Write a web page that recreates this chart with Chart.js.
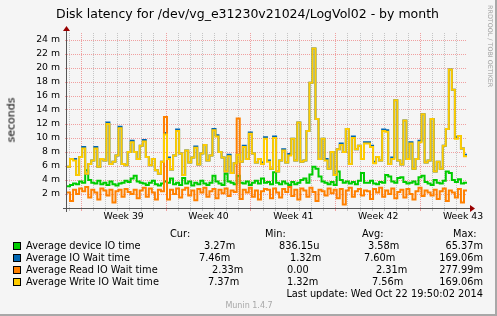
<!DOCTYPE html>
<html>
<head>
<meta charset="utf-8">
<script src="https://cdn.jsdelivr.net/npm/chart.js@4.4.0/dist/chart.umd.min.js"></script>
<style>
body{margin:0;background:#f5f5f5}
#wrap{position:relative;width:497px;height:316px;background:#f5f5f5;overflow:hidden;font-family:'DejaVu Sans',sans-serif;color:#000}
#wrap canvas{position:absolute;left:0;top:0}
.t{position:absolute;white-space:pre;line-height:1}
.box{position:absolute;width:6px;height:6px;border:1px solid #000}
.shadeR{position:absolute;right:0;top:0;width:2px;height:316px;background:#a8a8a8}
.shadeB{position:absolute;left:0;bottom:0;width:497px;height:2px;background:#a8a8a8}
</style>
</head>
<body>
<div id="wrap"><canvas id="chart" width="497" height="316"></canvas><div class="shadeR"></div><div class="shadeB"></div></div>
<script>
// 33 days ending at the last update, one value every 6 hours (milliseconds)
const START=Date.UTC(2014, 8, 19, 19, 50, 2);
const END=Date.UTC(2014, 9, 22, 19, 50, 2);
const firstSunday=Date.UTC(2014, 8, 21);
const weekLabels=['Week 39', 'Week 40', 'Week 41', 'Week 42', 'Week 43'];

// values in milliseconds (plotted as "m")
const deviceIO=[3.1,3.3,3.5,3.4,3.8,3.6,5.4,4.0,3.6,3.5,3.9,3.4,3.6,3.3,3.8,3.4,3.2,3.5,3.6,3.9,3.7,4.2,4.6,3.8,3.6,3.5,3.3,3.6,3.9,3.4,3.2,3.5,3.8,
3.6,4.2,3.4,3.6,3.3,4.3,3.5,3.8,3.2,3.6,3.4,3.9,3.5,3.3,3.6,4.6,3.8,3.5,3.3,4.9,3.8,3.6,3.4,4.6,3.6,3.5,3.8,3.3,3.6,3.9,3.5,4.2,3.6,
3.7,3.4,5.1,3.6,3.4,3.8,3.5,3.3,3.7,3.4,3.6,4.0,4.2,3.6,4.8,5.9,5.6,4.5,3.8,3.6,3.4,3.7,3.3,5.2,4.0,3.6,3.8,3.5,3.7,3.4,3.9,5.0,3.6,
3.6,3.9,3.5,3.4,3.7,3.6,4.7,4.5,3.8,3.6,4.3,4.4,3.7,3.5,3.6,3.8,3.4,4.4,4.6,3.7,3.5,3.3,4.0,3.6,3.5,3.9,5.2,5.0,4.0,3.7,4.1,3.5,3.6];

const ioWait=[5.9,7.0,7.0,4.7,7.3,8.7,4.9,6.3,6.8,8.7,5.9,7.0,6.8,12.2,6.3,6.6,7.5,11.6,6.3,6.1,8.0,9.6,8.0,7.0,8.9,9.7,7.3,6.1,7.0,5.4,4.9,6.6,10.7,
7.2,5.5,7.5,11.2,7.8,4.7,8.2,6.5,7.2,8.8,6.2,7.8,9.0,6.8,7.5,11.3,10.4,8.0,7.2,5.2,7.6,5.0,6.4,7.6,6.6,8.9,7.0,10.8,7.8,6.5,7.0,6.5,10.1,
6.8,5.6,10.2,5.2,6.8,8.4,6.5,7.7,9.9,6.8,12.2,6.6,6.8,11.0,17.9,22.8,12.7,7.0,9.9,7.0,5.6,8.0,4.7,8.4,9.2,8.0,11.3,6.3,10.2,8.4,8.9,7.0,9.4,
9.4,8.9,6.6,7.3,6.8,11.2,11.1,6.3,7.2,15.4,6.8,6.2,12.5,7.0,9.4,5.6,7.0,9.6,13.4,6.5,6.8,12.7,5.2,6.6,5.6,8.9,11.3,19.8,16.9,10.1,10.3,8.5,7.6];

const readWait=[2.2,1.0,2.6,2.0,2.8,2.4,3.0,1.5,2.6,2.2,1.2,2.8,2.5,1.8,2.6,0.8,2.4,2.6,1.6,2.7,2.3,2.0,2.6,1.4,2.5,2.9,1.6,2.8,2.2,1.2,2.6,2.4,13.0,
1.2,2.6,2.0,2.8,1.5,2.6,2.9,1.8,2.5,1.1,2.7,2.2,2.9,1.6,2.4,2.7,1.4,2.6,2.1,2.8,1.7,2.5,2.3,12.8,1.3,2.6,2.2,2.9,1.6,2.5,1.2,2.4,2.7,
2.6,1.4,2.8,2.2,1.5,2.7,2.3,3.0,1.7,2.6,1.2,2.8,2.5,1.6,2.9,2.3,1.0,2.6,2.4,1.8,2.8,2.1,2.6,1.4,2.7,0.5,2.5,2.9,1.6,2.4,2.7,1.8,2.5,
2.4,1.3,2.7,2.2,2.9,1.6,2.5,2.0,2.8,1.4,2.3,2.6,1.5,2.7,2.0,1.2,2.4,2.9,1.7,2.5,2.2,1.8,2.6,1.3,2.4,2.8,1.0,2.5,2.2,1.5,2.7,0.8,2.5];

const writeWait=[5.9,7.0,6.8,4.7,7.3,8.5,4.9,6.3,6.8,8.5,5.9,7.0,6.8,12.0,6.3,6.6,7.5,11.4,6.3,6.1,8.0,9.4,8.0,7.0,8.9,9.5,7.3,6.1,7.0,5.4,4.9,6.6,10.5,
7.0,5.5,7.5,11.0,7.8,4.7,8.2,6.5,7.2,8.6,6.2,7.8,9.0,6.8,7.5,11.1,10.2,8.0,7.2,5.2,7.4,5.0,6.4,7.6,6.6,8.7,7.0,10.6,7.8,6.5,7.0,6.3,9.9,
6.6,5.6,10.0,5.2,6.8,8.2,6.5,7.5,9.9,6.8,12.2,6.6,6.8,11.0,17.9,22.8,12.7,7.0,9.9,6.8,5.6,8.0,4.7,8.4,9.0,8.0,11.3,6.3,10.0,8.4,8.9,7.0,9.2,
9.2,8.7,6.4,7.3,6.8,11.0,10.9,6.3,7.0,15.4,6.8,6.2,12.5,7.0,9.2,5.6,7.0,9.4,13.4,6.5,6.8,12.7,5.2,6.6,5.6,8.9,11.3,19.8,16.9,9.9,10.3,8.5,7.4];

const seriesNames=['Average device IO time', 'Average IO Wait time', 'Average Read IO Wait time', 'Average Write IO Wait time'];
const seriesColors=['#00cc00', '#0066b3', '#ff8000', '#ffcc00'];
const curVals=['3.27m', '7.46m', '2.33m', '7.37m'];
const minVals=['836.15u', '1.32m', '0.00', '1.32m'];
const avgVals=['3.58m', '7.60m', '2.31m', '7.56m'];
const maxVals=['65.37m', '169.06m', '277.99m', '169.06m'];

const DAY=86400000;
const STEP=(END - START) / deviceIO.length;

function toPoints(vals) {
    const pts=vals.map((v, i)=> ({ x: START + i * STEP, y: v }));
    pts.push({ x: END, y: vals[vals.length - 1] });
    return pts;
}

// tick kinds: 'day' minor grid, 'week' major grid, 'label' week label only
const xTicks=[];
for (let t=Date.UTC(2014, 8, 20); t <= END; t+=DAY) {
    xTicks.push({ value: t, kind: ((t - firstSunday) % (7 * DAY)===0) ? 'week' : 'day' });
}
weekLabels.forEach((lab, i)=> {
    xTicks.push({ value: firstSunday + i * 7 * DAY + 3.5 * DAY, kind: 'label', text: lab });
});
xTicks.sort((a, b)=> a.value - b.value);

const GRID='rgba(150,150,150,0.5)';
const MGRID='rgba(235,90,90,0.55)';

const axesPlugin={
    id: 'axes',
    afterDatasetsDraw(chart) {
        const ctx=chart.ctx;
        const a=chart.chartArea;
        ctx.save();
        ctx.strokeStyle='#555';
        ctx.lineWidth=1;
        ctx.beginPath();
        ctx.moveTo(a.left - 4, a.bottom + 0.5);
        ctx.lineTo(a.right + 4, a.bottom + 0.5);
        ctx.moveTo(a.left - 0.5, a.bottom + 4);
        ctx.lineTo(a.left - 0.5, a.top - 4);
        ctx.stroke();
        ctx.fillStyle='#990000';
        ctx.beginPath();
        ctx.moveTo(a.right + 3, a.bottom - 3);
        ctx.lineTo(a.right + 8, a.bottom + 0.5);
        ctx.lineTo(a.right + 3, a.bottom + 4);
        ctx.closePath();
        ctx.fill();
        ctx.beginPath();
        ctx.moveTo(a.left - 4, a.top - 2);
        ctx.lineTo(a.left - 0.5, a.top - 7);
        ctx.lineTo(a.left + 3, a.top - 2);
        ctx.closePath();
        ctx.fill();
        ctx.restore();
    }
};

Chart.defaults.font.family="'DejaVu Sans', sans-serif";
Chart.defaults.color='#000';

const datasets=[deviceIO, ioWait, readWait, writeWait].map((vals, i)=> ({
    label: seriesNames[i],
    data: toPoints(vals),
    borderColor: seriesColors[i],
    backgroundColor: seriesColors[i],
    borderWidth: 2,
    pointRadius: 0,
    stepped: 'before',
    order: 4 - i
}));

new Chart(document.getElementById('chart'), {
    type: 'line',
    data: { datasets: datasets },
    options: {
        responsive: false,
        animation: false,
        devicePixelRatio: 1,
        layout: { padding: { top: 33, right: 30, left: 0, bottom: 0 } },
        plugins: { legend: { display: false }, tooltip: { enabled: false } },
        scales: {
            x: {
                type: 'linear',
                min: START,
                max: END,
                offset: false,
                afterFit: s=> { s.height=108; },
                afterBuildTicks: s=> { s.ticks=xTicks.map(t=> ({ value: t.value })); },
                ticks: {
                    autoSkip: false,
                    maxRotation: 0,
                    padding: 0,
                    font: { size: 9.3 },
                    callback: (v, i)=> xTicks[i].kind==='label' ? xTicks[i].text : ''
                },
                grid: {
                    tickLength: 3,
                    color: c=> c.index===undefined ? GRID : (xTicks[c.index].kind==='label' ? 'rgba(0,0,0,0)' : (xTicks[c.index].kind==='week' ? MGRID : GRID)),
                    borderDash: [1, 1]
                },
                border: { display: false, dash: [1, 1] }
            },
            y: {
                min: 0,
                max: 25,
                afterFit: s=> { s.width=67; },
                ticks: {
                    stepSize: 1,
                    padding: 5,
                    font: { size: 9.3 },
                    callback: v=> (v > 0 && v < 25 && v % 2===0) ? v + ' m' : ''
                },
                grid: {
                    tickLength: 2,
                    color: c=> (c.tick && c.tick.value % 2===0) ? MGRID : GRID,
                    borderDash: [1, 1]
                },
                border: { display: false, dash: [1, 1] }
            }
        }
    },
    plugins: [axesPlugin]
});

// text around the plot
const wrap=document.getElementById('wrap');
function addText(txt, x, baseline, size, align, color) {
    const el=document.createElement('div');
    el.className='t';
    el.textContent=txt;
    el.style.fontSize=size + 'px';
    el.style.top=(baseline - size * 0.846) + 'px';
    if (color) el.style.color=color;
    if (align==='right') {
        el.style.right=(497 - x) + 'px';
    } else if (align==='center') {
        el.style.left=x + 'px';
        el.style.transform='translateX(-50%)';
    } else {
        el.style.left=x + 'px';
    }
    wrap.appendChild(el);
    return el;
}

addText('Disk latency for /dev/vg_e31230v21024/LogVol02 - by month', 247.5, 18.3, 12.5, 'center');

const yTitle=document.createElement('div');
yTitle.className='t';
yTitle.textContent='seconds';
yTitle.style.fontSize='11px';
yTitle.style.left='10.5px';
yTitle.style.top='120px';
yTitle.style.transform='translate(-50%,-50%) rotate(-90deg)';
wrap.appendChild(yTitle);

const credit=document.createElement('div');
credit.className='t';
credit.textContent='RRDTOOL / TOBI OETIKER';
credit.style.fontSize='6.4px';
credit.style.color='#a0a0a0';
credit.style.left='487px';
credit.style.top='5px';
credit.style.writingMode='vertical-rl';
wrap.appendChild(credit);

addText('Cur:', 170, 237, 9.8);
addText('Min:', 265, 237, 9.8);
addText('Avg:', 362, 237, 9.8);
addText('Max:', 453, 237, 9.8);

const curLeft=[204, 199, 212, 208];
const minLeft=[279, 290, 287, 287];
const avgLeft=[368, 364, 376, 372];
seriesNames.forEach((name, i)=> {
    const base=249 + i * 12;
    const box=document.createElement('div');
    box.className='box';
    box.style.left='13px';
    box.style.top=(base - 7.5) + 'px';
    box.style.background=seriesColors[i];
    wrap.appendChild(box);
    addText(name, 26, base, 9.8);
    addText(curVals[i], curLeft[i], base, 9.8);
    addText(minVals[i], minLeft[i], base, 9.8);
    addText(avgVals[i], avgLeft[i], base, 9.8);
    addText(maxVals[i], 483, base, 9.8, 'right');
});

addText('Last update: Wed Oct 22 19:50:02 2014', 483, 297.3, 9.8, 'right');
addText('Munin 1.4.7', 249, 308.3, 8, 'center', '#a8a8a8');
</script>
</body>
</html>
